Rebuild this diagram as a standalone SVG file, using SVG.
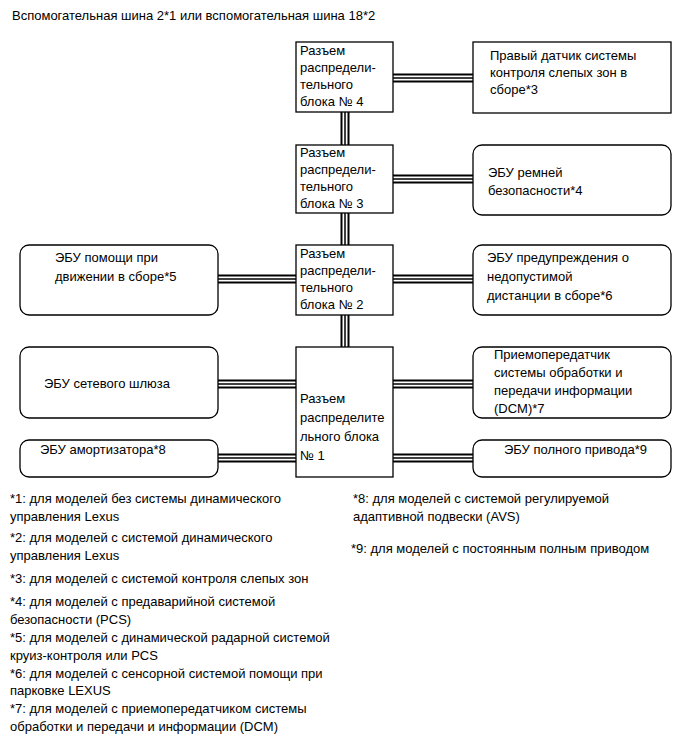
<svg xmlns="http://www.w3.org/2000/svg" width="690" height="756" viewBox="0 0 690 756">
<style>
text{font-family:"Liberation Sans",Arial,sans-serif;font-size:13px;fill:#000}
.box{fill:#fff;stroke:#000;stroke-width:1.3}
.c1{stroke:#000;stroke-width:9;fill:none}
.c2{stroke:#fff;stroke-width:5;fill:none}
.c3{stroke:#000;stroke-width:1.5;fill:none}
</style>
<rect width="690" height="756" fill="#fff"/>
<text x="12" y="20">Вспомогательная шина 2*1 или вспомогательная шина 18*2</text>
<g id="connectors">
<g class="c1"><path d="M393 78H473M345 112V145M393 179H473M345 213V245M218 279H296M393 279H473M345 315V347M218 384H296M393 384H473M218 458H296M393 458H473"/></g>
<g class="c2"><path d="M393 78H473M345 112V145M393 179H473M345 213V245M218 279H296M393 279H473M345 315V347M218 384H296M393 384H473M218 458H296M393 458H473"/></g>
<g class="c3"><path d="M393 78H473M345 112V145M393 179H473M345 213V245M218 279H296M393 279H473M345 315V347M218 384H296M393 384H473M218 458H296M393 458H473"/></g>
</g>
<g id="db4"><rect class="box" x="296" y="42" width="97" height="70"/>
<text x="300" y="55">Разъем</text><text x="300" y="72">распредели-</text><text x="300" y="89">тельного</text><text x="300" y="106">блока № 4</text></g>
<g id="db3"><rect class="box" x="296" y="145" width="97" height="68"/>
<text x="300" y="157">Разъем</text><text x="300" y="174">распредели-</text><text x="300" y="191">тельного</text><text x="300" y="208">блока № 3</text></g>
<g id="db2"><rect class="box" x="296" y="245" width="97" height="70"/>
<text x="300" y="258">Разъем</text><text x="300" y="275">распредели-</text><text x="300" y="292">тельного</text><text x="300" y="309">блока № 2</text></g>
<g id="db1"><rect class="box" x="296" y="347" width="97" height="130"/>
<text x="300" y="403">Разъем</text><text x="300" y="422">распределите</text><text x="300" y="441">льного блока</text><text x="300" y="460">№ 1</text></g>
<g id="bsm"><rect class="box" x="473" y="42" width="198" height="71"/>
<text x="490" y="60">Правый датчик системы</text><text x="490" y="77">контроля слепых зон в</text><text x="490" y="94">сборе*3</text></g>
<g id="seatbelt"><rect class="box" x="473" y="145" width="198" height="70" rx="9"/>
<text x="488" y="177">ЭБУ ремней</text><text x="488" y="195">безопасности*4</text></g>
<g id="drive"><rect class="box" x="20" y="245" width="198" height="70" rx="9"/>
<text x="55" y="262">ЭБУ помощи при</text><text x="55" y="281">движении в сборе*5</text></g>
<g id="clearance"><rect class="box" x="473" y="245" width="198" height="70" rx="9"/>
<text x="487" y="262">ЭБУ предупреждения о</text><text x="487" y="281">недопустимой</text><text x="487" y="300">дистанции в сборе*6</text></g>
<g id="gateway"><rect class="box" x="20" y="347" width="198" height="71" rx="9"/>
<text x="44" y="388">ЭБУ сетевого шлюза</text></g>
<g id="dcm"><rect class="box" x="473" y="347" width="198" height="71" rx="9"/>
<text x="494" y="359">Приемопередатчик</text><text x="494" y="377">системы обработки и</text><text x="494" y="395">передачи информации</text><text x="494" y="413">(DCM)*7</text></g>
<g id="absorber"><rect class="box" x="20" y="440" width="198" height="37" rx="9"/>
<text x="40" y="454">ЭБУ амортизатора*8</text></g>
<g id="awd"><rect class="box" x="473" y="440" width="198" height="37" rx="9"/>
<text x="504" y="454">ЭБУ полного привода*9</text></g>
<g id="notes">
<text x="10" y="503">*1: для моделей без системы динамического</text>
<text x="10" y="521">управления Lexus</text>
<text x="10" y="542">*2: для моделей с системой динамического</text>
<text x="10" y="560">управления Lexus</text>
<text x="10" y="583">*3: для моделей с системой контроля слепых зон</text>
<text x="10" y="606">*4: для моделей с предаварийной системой</text>
<text x="10" y="624">безопасности (PCS)</text>
<text x="10" y="642">*5: для моделей с динамической радарной системой</text>
<text x="10" y="660">круиз-контроля или PCS</text>
<text x="10" y="678">*6: для моделей с сенсорной системой помощи при</text>
<text x="10" y="695">парковке LEXUS</text>
<text x="10" y="713">*7: для моделей с приемопередатчиком системы</text>
<text x="10" y="731">обработки и передачи и информации (DCM)</text>
<text x="353" y="503">*8: для моделей с системой регулируемой</text>
<text x="353" y="521">адаптивной подвески (AVS)</text>
<text x="351" y="553">*9: для моделей с постоянным полным приводом</text>
</g>
</svg>
